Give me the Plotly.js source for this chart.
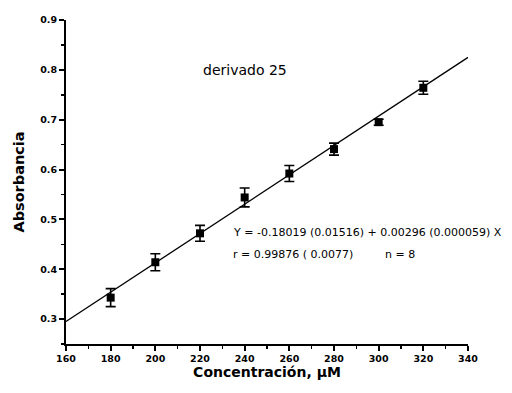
<!DOCTYPE html>
<html><head><meta charset="utf-8">
<script src="https://cdn.plot.ly/plotly-3.0.1.min.js"></script>
<style>html,body{margin:0;padding:0;background:#fff}#c{width:512px;height:393px}</style>
</head><body><div id="c"></div>
<script>
const conc = [180, 200, 220, 240, 260, 280, 300, 320];
const absorb = [0.343, 0.414, 0.472, 0.544, 0.592, 0.641, 0.695, 0.764];
const errs = [0.018, 0.017, 0.016, 0.019, 0.016, 0.012, 0.006, 0.013];
const fitX = [160, 340];
const fitY = [0.295, 0.825];
const xTicks = [160, 180, 200, 220, 240, 260, 280, 300, 320, 340];
const yTicks = [0.3, 0.4, 0.5, 0.6, 0.7, 0.8, 0.9];
const label = "derivado 25";
const eqLine1 = "Y = -0.18019 (0.01516) + 0.00296 (0.000059) X";
const eqLine2 = "r = 0.99876 ( 0.0077)";
const eqN = "n = 8";

const font = "DejaVu Sans, Arial, sans-serif";
const traces = [
  {x: fitX, y: fitY, mode: "lines", line: {color: "#000", width: 1.3}, hoverinfo: "skip"},
  {x: conc, y: absorb, mode: "markers",
   marker: {symbol: "square", size: 8, color: "#000"},
   error_y: {type: "data", array: errs, visible: true, color: "#000", thickness: 1.6, width: 5}}
];
const layout = {
  width: 512, height: 393,
  margin: {l: 66, r: 44, t: 20, b: 49},
  showlegend: false,
  paper_bgcolor: "#fff", plot_bgcolor: "#fff",
  font: {family: font, color: "#000"},
  xaxis: {range: [160, 340], tickvals: xTicks, ticktext: xTicks.map(String),
    showline: true, linecolor: "#000", linewidth: 2, showgrid: false, zeroline: false,
    ticks: "outside", ticklen: 5, tickwidth: 2, tickcolor: "#000",
    minor: {dtick: 10, ticks: "outside", ticklen: 3, tickwidth: 1.5, tickcolor: "#000"},
    tickfont: {size: 9.5, family: font, weight: "bold"},
    title: {text: "Concentración, µM", font: {size: 14, family: font, weight: "bold"}, standoff: 4}},
  yaxis: {range: [0.25, 0.9], tickvals: yTicks, ticktext: yTicks.map(v => v.toFixed(1)),
    showline: true, linecolor: "#000", linewidth: 2, showgrid: false, zeroline: false,
    ticks: "outside", ticklen: 5, tickwidth: 2, tickcolor: "#000",
    minor: {dtick: 0.05, ticks: "outside", ticklen: 3, tickwidth: 1.5, tickcolor: "#000"},
    tickfont: {size: 9.5, family: font, weight: "bold"},
    title: {text: "Absorbancia", font: {size: 14.5, family: font, weight: "bold"}, standoff: 12}},
  annotations: [
    {x: 220.5, y: 0.8, xref: "x", yref: "y", text: label, showarrow: false, xanchor: "left", yanchor: "middle",
     font: {size: 14, family: font}},
    {x: 234, y: 0.473, xref: "x", yref: "y", text: eqLine1, showarrow: false, xanchor: "left", yanchor: "middle",
     font: {size: 11, family: font}},
    {x: 234, y: 0.429, xref: "x", yref: "y", text: eqLine2, showarrow: false, xanchor: "left", yanchor: "middle",
     font: {size: 11, family: font}},
    {x: 302, y: 0.429, xref: "x", yref: "y", text: eqN, showarrow: false, xanchor: "left", yanchor: "middle",
     font: {size: 11, family: font}}
  ]
};
Plotly.newPlot("c", traces, layout, {displayModeBar: false, staticPlot: true});
</script></body></html>
